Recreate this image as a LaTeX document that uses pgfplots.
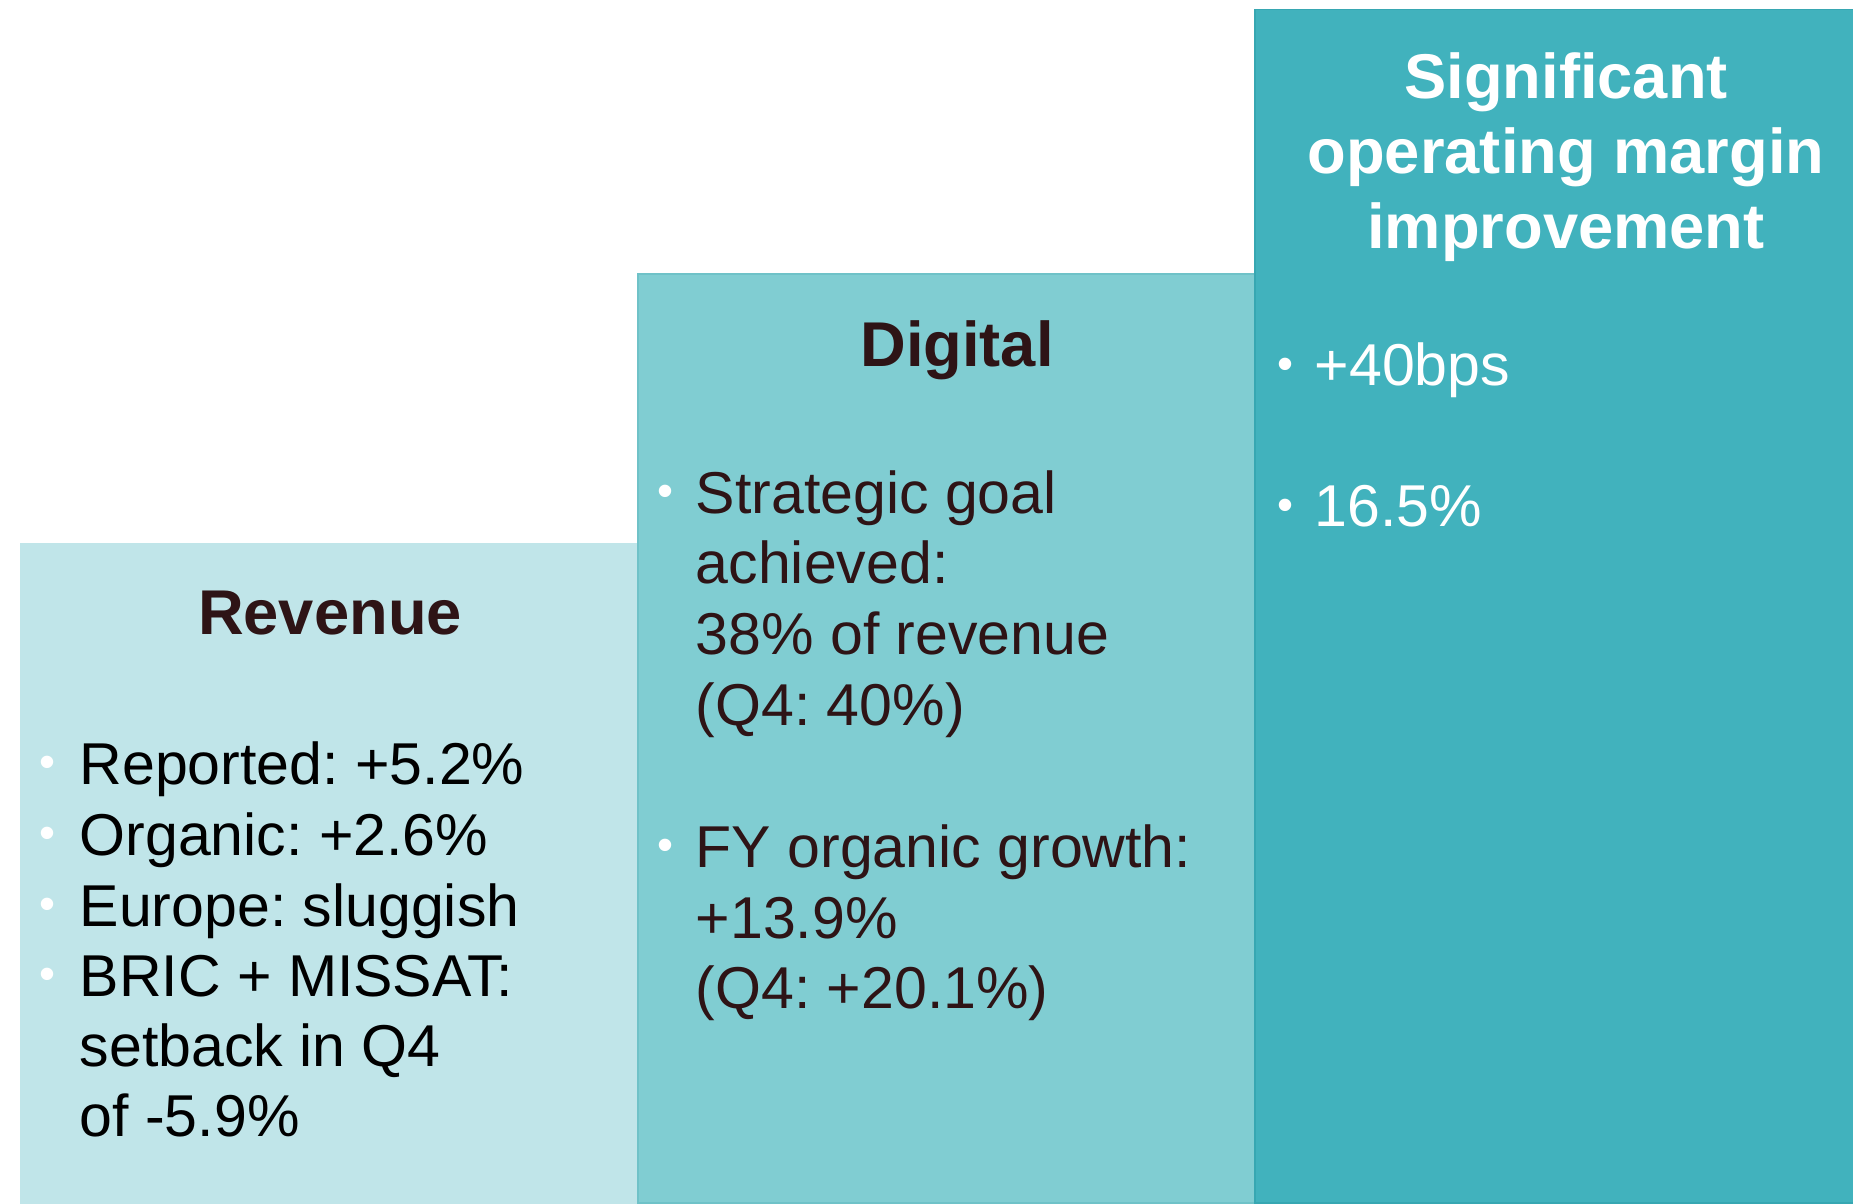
\documentclass[border=0pt]{standalone}
\usepackage{fontspec}
\setmainfont{Liberation Sans}
\usepackage{pgfplots}
\pgfplotsset{compat=1.18}

\definecolor{revfill}{HTML}{C0E5E9}
\definecolor{digfill}{HTML}{80CDD2}
\definecolor{opfill}{HTML}{41B2BD}
\definecolor{digline}{HTML}{6FC2C8}
\definecolor{opline}{HTML}{37A7B2}
\definecolor{headbrown}{HTML}{2E1416}

\begin{document}
\frenchspacing
\begin{tikzpicture}[
  head/.style={font=\fontsize{18}{21}\selectfont\bfseries, anchor=base, inner sep=0pt},
  body/.style={font=\fontsize{16.8}{20}\selectfont, anchor=base west, inner sep=0pt},
  dot/.style={font=\fontsize{13}{15}\selectfont, anchor=base, inner sep=0pt, text=white},
]
% y runs from 20 so the bars' lower edge falls outside the picture
\begin{axis}[
  width=18.53cm, height=12.03cm, scale only axis,
  xmin=0, xmax=1853, ymin=20, ymax=1223,
  hide axis,
]
% three steps: revenue, digital, operating margin
\addplot[ybar, bar width=617, bar shift=0pt, fill=revfill, draw=revfill, line width=0.4pt]
  coordinates {(329.5,679.4)};
\addplot[ybar, bar width=617, bar shift=0pt, fill=digfill, draw=digline, line width=0.4pt]
  coordinates {(946.5,949)};
\addplot[ybar, bar width=617, bar shift=0pt, fill=opfill, draw=opline, line width=0.4pt]
  coordinates {(1563.5,1213.5)};

% Revenue
\node[head, text=headbrown] at (axis cs:330,588) {Revenue};
\node[body] at (axis cs:79,439) {Reported: +5.2\%};
\node[body] at (axis cs:79,368) {Organic: +2.6\%};
\node[body] at (axis cs:79,297) {Europe: sluggish};
\node[body] at (axis cs:79,227) {BRIC + MISSAT:};
\node[body] at (axis cs:79,157) {setback in Q4};
\node[body] at (axis cs:79,87) {of -5.9\%};
\node[dot] at (axis cs:47,446) {•};
\node[dot] at (axis cs:47,375) {•};
\node[dot] at (axis cs:47,304) {•};
\node[dot] at (axis cs:47,234) {•};

% Digital
\node[head, text=headbrown] at (axis cs:957,856) {Digital};
\node[body, text=headbrown] at (axis cs:695,709) {Strategic goal};
\node[body, text=headbrown] at (axis cs:695,639) {achieved:};
\node[body, text=headbrown] at (axis cs:695,568) {38\% of revenue};
\node[body, text=headbrown] at (axis cs:695,498) {(Q4: 40\%)};
\node[body, text=headbrown] at (axis cs:695,356) {FY organic growth:};
\node[body, text=headbrown] at (axis cs:695,285) {+13.9\%};
\node[body, text=headbrown] at (axis cs:695,215) {(Q4: +20.1\%)};
\node[dot] at (axis cs:665,716) {•};
\node[dot] at (axis cs:665,363) {•};

% Operating margin
\node[head, text=white] at (axis cs:1566,1124) {Significant};
\node[head, text=white] at (axis cs:1566,1049) {operating margin};
\node[head, text=white] at (axis cs:1566,974) {improvement};
\node[body, text=white] at (axis cs:1314,837) {+40bps};
\node[body, text=white] at (axis cs:1314,696) {16.5\%};
\node[dot] at (axis cs:1285,843) {•};
\node[dot] at (axis cs:1285,702) {•};
\end{axis}
\path (current axis.south west) rectangle (current axis.north east);
\end{tikzpicture}
\end{document}
